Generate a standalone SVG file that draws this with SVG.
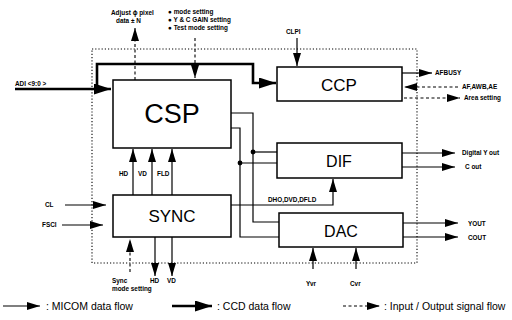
<svg xmlns="http://www.w3.org/2000/svg" width="512" height="320" viewBox="0 0 512 320">
<style>
.box{fill:#fff;stroke:#000;stroke-width:1.5}
.bt{font-family:"Liberation Sans",Arial,sans-serif;text-anchor:middle;fill:#000}
.lb{font-family:"Liberation Sans",Arial,sans-serif;font-size:6.4px;font-weight:bold;fill:#000}
.ln{fill:none;stroke:#000;stroke-width:1.2}
.dl{fill:none;stroke:#000;stroke-width:1.1;stroke-dasharray:3 2.5}
.th{fill:none;stroke:#000;stroke-width:2.6}
.lg{font-family:"Liberation Sans",Arial,sans-serif;font-size:10.5px;fill:#000}
</style>
<defs>
<marker id="a" markerUnits="userSpaceOnUse" markerWidth="13" markerHeight="8" refX="13" refY="4" orient="auto"><path d="M0,0 L13,4 L0,8 z" fill="#000"/></marker>
<marker id="t" markerUnits="userSpaceOnUse" markerWidth="17" markerHeight="11" refX="17" refY="5.5" orient="auto"><path d="M0,0 L17,5.5 L0,11 z" fill="#000"/></marker>
</defs>
<rect width="512" height="320" fill="#fff"/>
<rect id="boundary" x="92" y="49" width="325" height="214" fill="none" stroke="#000" stroke-width="1.1" stroke-dasharray="1.2 2"/>
<g id="connectors">
<path class="th" d="M15,89 H111" marker-end="url(#t)"/>
<path class="th" d="M97,89 V64 H253 V83 H276" marker-end="url(#t)"/>
<path class="dl" d="M135,80 V28" marker-end="url(#a)"/>
<path class="dl" d="M195,38 V78" marker-end="url(#a)"/>
<path class="ln" d="M297,38 V66" marker-end="url(#a)"/>
<path class="ln" d="M402,73 H432" marker-end="url(#a)"/>
<path class="dl" d="M458,87 H404" marker-end="url(#a)"/>
<path class="dl" d="M404,98 H460" marker-end="url(#a)"/>
<path class="ln" d="M402,153 H455" marker-end="url(#a)"/>
<path class="ln" d="M402,167 H455" marker-end="url(#a)"/>
<path class="ln" d="M403,223 H458" marker-end="url(#a)"/>
<path class="ln" d="M403,237 H458" marker-end="url(#a)"/>
<path class="ln" d="M231,113 H253 V222 H279"/>
<path class="ln" d="M231,128 H240 V237 H279"/>
<path class="ln" d="M253,152 H277"/>
<path class="ln" d="M240,163 H277"/>
<circle cx="253" cy="152" r="2.4" fill="#000"/>
<circle cx="240" cy="163" r="2.4" fill="#000"/>
<path class="ln" d="M231,205 H333 V179" marker-end="url(#a)"/>
<path class="ln" d="M133,195 V149" marker-end="url(#a)"/>
<path class="ln" d="M152,195 V149" marker-end="url(#a)"/>
<path class="ln" d="M172,195 V149" marker-end="url(#a)"/>
<path class="ln" d="M65,205 H106" marker-end="url(#a)"/>
<path class="ln" d="M62,225 H103" marker-end="url(#a)"/>
<path class="dl" d="M130,272 V239" marker-end="url(#a)"/>
<path class="ln" d="M155,237 V276" marker-end="url(#a)"/>
<path class="ln" d="M172,237 V276" marker-end="url(#a)"/>
<path class="ln" d="M313,269 V248" marker-end="url(#a)"/>
<path class="ln" d="M356,269 V248" marker-end="url(#a)"/>
</g>
<g id="CSP"><rect class="box" x="113" y="80" width="118" height="68"/><text class="bt" x="172" y="123" font-size="27">CSP</text></g>
<g id="CCP"><rect class="box" x="277" y="67" width="125" height="34"/><text class="bt" x="339" y="91" font-size="17">CCP</text></g>
<g id="DIF"><rect class="box" x="277" y="143" width="125" height="35"/><text class="bt" x="339" y="167" font-size="16">DIF</text></g>
<g id="SYNC"><rect class="box" x="113" y="195" width="118" height="42"/><text class="bt" x="172" y="222" font-size="17">SYNC</text></g>
<g id="DAC"><rect class="box" x="279" y="213" width="124" height="34"/><text class="bt" x="341" y="237" font-size="16">DAC</text></g>
<g id="labels">
<text class="lb" x="15" y="86">ADI &lt;9:0 &gt;</text>
<text class="lb" x="111" y="15">Adjust ϕ  pixel</text>
<text class="lb" x="116" y="23">data ± N</text>
<text class="lb" x="168" y="14">●  mode setting</text>
<text class="lb" x="168" y="22">●  Y &amp; C GAIN setting</text>
<text class="lb" x="168" y="30">●  Test mode setting</text>
<text class="lb" x="286" y="34">CLPI</text>
<text class="lb" x="435" y="75">AFBUSY</text>
<text class="lb" x="462" y="89">AF,AWB,AE</text>
<text class="lb" x="464" y="100">Area setting</text>
<text class="lb" x="462" y="155">Digital Y out</text>
<text class="lb" x="465" y="169">C out</text>
<text class="lb" x="468" y="226">YOUT</text>
<text class="lb" x="468" y="240">COUT</text>
<text class="lb" x="268" y="202">DHO,DVD,DFLD</text>
<text class="lb" x="119" y="176">HD</text>
<text class="lb" x="138" y="176">VD</text>
<text class="lb" x="157" y="176">FLD</text>
<text class="lb" x="45" y="207">CL</text>
<text class="lb" x="42" y="227">FSCI</text>
<text class="lb" x="112" y="283">Sync</text>
<text class="lb" x="112" y="291">mode setting</text>
<text class="lb" x="150" y="283">HD</text>
<text class="lb" x="167" y="283">VD</text>
<text class="lb" x="306" y="286">Yvr</text>
<text class="lb" x="350" y="286">Cvr</text>
</g>
<g id="legend">
<path class="ln" d="M3,306 H40" marker-end="url(#a)"/>
<text class="lg" x="46" y="310">: MICOM data flow</text>
<path class="th" d="M172,306 H212" marker-end="url(#t)"/>
<text class="lg" x="217" y="310">: CCD data flow</text>
<path class="dl" d="M343,306 H380" marker-end="url(#a)"/>
<text class="lg" x="384" y="310">: Input / Output signal flow</text>
</g>
</svg>
